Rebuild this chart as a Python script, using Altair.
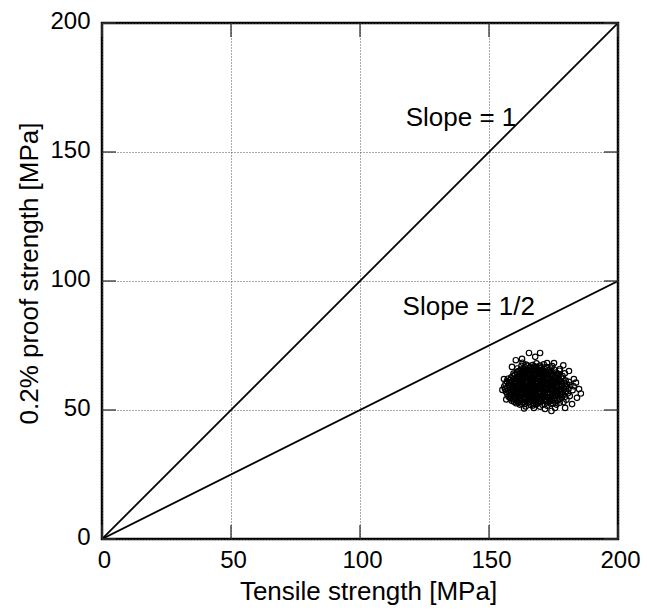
import altair as alt
import pandas as pd

# ---- data ----
axis_ticks = [0, 50, 100, 150, 200]

line1_x = [0, 200]
line1_y = [0, 200]
line2_x = [0, 200]
line2_y = [0, 100]

note_text = ["Slope = 1", "Slope = 1/2"]
note_x = [117.7, 116.5]
note_y = [159.9, 86.7]

cloud_core = [
    (164.2,51.4),(167.0,51.7),(169.8,51.3),(172.6,51.6),
    (161.9,52.1),(163.8,52.3),(166.2,51.9),(168.3,52.2),(170.7,52.0),(173.9,52.4),(176.1,52.1),
    (160.5,52.6),(162.7,52.4),(165.0,52.8),(167.4,52.5),(169.1,52.7),(171.5,52.3),(174.8,52.6),(177.4,52.8),
    (159.7,53.2),(161.3,52.9),(163.2,53.1),(165.8,53.3),(168.0,52.9),(170.1,53.2),(172.3,53.0),(175.6,53.3),(178.9,53.1),
    (158.8,53.6),(160.9,53.4),(162.4,53.7),(164.6,53.5),(166.9,53.8),(169.4,53.4),(171.2,53.6),(173.7,53.5),(176.5,53.7),
    (159.3,54.2),(161.8,53.9),(163.5,54.1),(165.3,54.3),(167.6,54.0),(169.9,54.2),(172.0,54.1),(174.4,53.9),(177.3,54.2),(180.0,54.0),
    (158.2,54.6),(160.2,54.4),(162.0,54.7),(164.1,54.5),(166.0,54.6),(168.5,54.4),(170.6,54.7),(173.1,54.5),(175.3,54.6),(178.2,54.8),
    (157.6,55.1),(159.5,54.9),(161.4,55.2),(163.3,55.0),(165.4,55.3),(167.2,54.9),(169.2,55.1),(171.7,55.2),(174.0,55.0),(176.8,55.3),(179.5,55.1),
    (158.4,55.6),(160.6,55.4),(162.5,55.7),(164.8,55.5),(166.6,55.8),(168.8,55.4),(170.9,55.6),(172.8,55.7),(175.5,55.5),(177.9,55.6),(181.3,55.4),
    (157.1,56.1),(159.0,55.9),(161.1,56.2),(163.0,56.0),(164.9,56.3),(167.0,55.9),(169.5,56.1),(171.3,56.2),(173.6,56.0),(176.2,56.3),(178.7,56.1),
    (158.0,56.6),(159.9,56.4),(162.2,56.7),(164.3,56.5),(166.3,56.6),(168.1,56.4),(170.2,56.7),(172.5,56.5),(174.7,56.6),(177.5,56.8),(180.6,56.5),
    (156.6,57.1),(158.7,56.9),(160.8,57.2),(162.9,57.0),(165.2,57.3),(167.5,56.9),(169.0,57.1),(171.0,57.2),(173.3,57.0),(175.9,57.3),(178.4,57.1),
    (157.4,57.6),(159.4,57.4),(161.6,57.7),(163.7,57.5),(165.8,57.8),(167.8,57.4),(169.7,57.6),(172.1,57.7),(174.3,57.5),(176.9,57.6),(179.8,57.4),(182.4,57.7),
    (156.2,58.1),(158.3,57.9),(160.4,58.2),(162.6,58.0),(164.5,58.3),(166.7,57.9),(168.6,58.1),(170.5,58.2),(172.7,58.0),(175.0,58.3),(177.6,58.1),(180.8,58.0),
    (157.0,58.6),(159.1,58.4),(161.0,58.7),(163.4,58.5),(165.5,58.6),(167.3,58.4),(169.3,58.7),(171.6,58.5),(173.9,58.6),(176.4,58.8),(178.9,58.5),
    (155.9,59.1),(158.0,58.9),(160.0,59.2),(162.1,59.0),(164.0,59.3),(166.1,58.9),(168.2,59.1),(170.0,59.2),(172.4,59.0),(174.6,59.3),(177.1,59.1),(179.9,59.0),(182.8,59.2),
    (157.5,59.6),(159.6,59.4),(161.7,59.7),(163.6,59.5),(165.7,59.8),(167.6,59.4),(169.6,59.6),(171.8,59.7),(173.5,59.5),(175.8,59.6),(178.3,59.4),(181.5,59.7),
    (156.4,60.1),(158.6,59.9),(160.7,60.2),(162.8,60.0),(164.6,60.3),(166.5,59.9),(168.7,60.1),(170.8,60.2),(172.9,60.0),(175.3,60.3),(177.8,60.1),(180.3,60.0),
    (157.8,60.6),(159.8,60.4),(161.9,60.7),(163.9,60.5),(165.9,60.6),(167.9,60.4),(169.9,60.7),(172.2,60.5),(174.1,60.6),(176.6,60.8),(179.2,60.5),
    (156.9,61.1),(158.9,60.9),(160.9,61.2),(163.1,61.0),(165.1,61.3),(167.0,60.9),(169.1,61.1),(171.1,61.2),(173.4,61.0),(175.7,61.3),(178.0,61.1),(181.0,60.9),
    (158.2,61.6),(160.3,61.4),(162.3,61.7),(164.4,61.5),(166.4,61.8),(168.4,61.4),(170.4,61.6),(172.6,61.7),(174.8,61.5),(177.2,61.6),(179.7,61.4),
    (157.3,62.1),(159.4,61.9),(161.5,62.2),(163.5,62.0),(165.6,62.3),(167.7,61.9),(169.8,62.1),(171.9,62.2),(174.2,62.0),(176.5,62.3),(178.8,62.1),
    (158.5,62.6),(160.6,62.4),(162.7,62.7),(164.8,62.5),(166.8,62.6),(168.9,62.4),(171.0,62.7),(173.2,62.5),(175.4,62.6),(177.9,62.8),
    (159.2,63.1),(161.2,62.9),(163.3,63.2),(165.3,63.0),(167.4,63.3),(169.5,62.9),(171.5,63.1),(173.8,63.2),(176.0,63.0),(178.5,63.2),
    (160.0,63.6),(162.0,63.4),(164.2,63.7),(166.2,63.5),(168.3,63.6),(170.3,63.4),(172.4,63.7),(174.7,63.5),(177.0,63.6),
    (159.5,64.1),(161.6,63.9),(163.8,64.2),(165.8,64.0),(167.9,64.3),(169.9,63.9),(172.0,64.1),(174.3,64.2),(176.7,64.0),(179.4,64.2),
    (160.8,64.6),(162.9,64.4),(164.9,64.7),(167.1,64.5),(169.2,64.6),(171.3,64.4),(173.6,64.7),(175.9,64.5),
    (161.4,65.1),(163.6,64.9),(165.6,65.2),(167.7,65.0),(169.7,65.3),(171.8,64.9),(174.0,65.1),(177.3,65.2),
    (162.3,65.6),(164.5,65.4),(166.6,65.7),(168.6,65.5),(170.7,65.6),(172.9,65.4),(175.2,65.7),
    (161.0,66.1),(163.2,65.9),(165.2,66.2),(167.3,66.0),(169.4,66.3),(171.6,65.9),(173.9,66.1),
    (163.9,66.6),(166.1,66.4),(168.2,66.7),(170.4,66.5),(172.6,66.6),
    (162.6,67.1),(165.0,67.2),(167.5,66.9),(169.8,67.2),(174.5,67.0),
    (164.3,67.6),(166.9,67.4),(171.2,67.7),
    (163.0,68.3),(168.4,68.1),
]

cloud_inner = [
    (164.0,53.8),(166.0,54.0),(168.2,53.7),(170.3,54.0),(172.4,53.7),
    (162.0,55.3),(164.0,55.0),(166.1,55.4),(168.0,55.2),(170.0,55.5),(172.2,55.1),(174.3,55.4),
    (161.2,56.9),(163.4,56.3),(165.4,56.8),(167.4,56.2),(169.3,56.6),(171.5,56.9),(173.5,56.3),(175.4,56.7),
    (160.5,57.9),(162.4,58.3),(164.4,57.7),(166.3,58.2),(168.3,57.8),(170.1,58.4),(172.0,57.9),(174.1,58.2),(176.1,57.8),
    (161.3,59.4),(163.2,59.8),(165.2,59.3),(167.1,59.7),(169.0,59.3),(171.0,59.8),(172.9,59.3),(174.9,59.7),(176.9,59.2),
    (160.2,60.8),(162.2,61.2),(164.2,60.7),(166.2,61.1),(168.1,60.6),(170.2,61.2),(172.1,60.7),(174.0,61.1),(176.0,60.7),
    (161.0,62.5),(163.0,62.1),(165.0,62.6),(167.0,62.2),(169.0,62.6),(171.1,62.1),(173.0,62.6),(175.1,62.2),
    (162.0,63.9),(164.0,63.4),(166.0,63.9),(168.0,63.4),(170.1,63.9),(172.2,63.4),(174.2,63.8),
    (163.1,65.0),(165.1,65.4),(167.2,64.9),(169.3,65.4),(171.2,65.0),
]

cloud_outer = [
    (162.8,69.8),(165.5,72.1),(169.8,72.1),(158.9,66.7),(172.5,68.2),(175.2,68.2),
    (177.5,65.9),(181.0,65.1),(182.9,62.0),(184.9,58.1),(184.1,54.7),(182.2,52.3),
    (179.5,50.8),(175.6,50.8),(171.7,50.4),(167.4,50.8),(158.1,60.5),(155.8,62.0),
    (160.4,69.3),(167.9,70.6),(155.2,57.8),(156.7,54.1),(178.8,67.3),(183.7,60.6),
    (185.6,56.4),(174.2,49.6),(163.6,50.6),
]

# ---- tables ----
pts = cloud_core + cloud_inner + cloud_outer
cloud_df = pd.DataFrame({"ts": [p[0] for p in pts], "ps": [p[1] for p in pts]})
lines_df = pd.DataFrame({
    "ts": line1_x + line2_x,
    "ps": line1_y + line2_y,
    "series": ["slope1"] * 2 + ["slope half"] * 2,
})
notes_df = pd.DataFrame({"label": note_text, "ts": note_x, "ps": note_y})
ticks_df = pd.DataFrame({"v": axis_ticks})

W, H = 516, 516
FONT = "Liberation Sans"
TICK_LEN = 14

xscale = alt.Scale(domain=[0, 200], nice=False, zero=False)
yscale = alt.Scale(domain=[0, 200], nice=False, zero=False)

xaxis = alt.Axis(
    values=axis_ticks, grid=True, gridColor="#555", gridDash=[1, 2], gridWidth=1,
    ticks=False, domain=False, labelFont=FONT, labelFontSize=24, labelColor="black",
    labelPadding=9, labelFlush=False, labelOverlap=False, labelOffset=2,
    title="Tensile strength [MPa]", titleFont=FONT, titleFontSize=26,
    titleFontWeight="normal", titleColor="black",
    titleX=266, titleY=60, titleBaseline="alphabetic", titleAlign="center",
)
yaxis = alt.Axis(
    values=axis_ticks, grid=True, gridColor="#555", gridDash=[1, 2], gridWidth=1,
    ticks=False, domain=False, labelFont=FONT, labelFontSize=24, labelColor="black",
    labelPadding=12, labelFlush=False, labelOverlap=False, labelOffset=-2,
    labelBaseline="middle",
    title="0.2% proof strength [MPa]", titleFont=FONT, titleFontSize=26,
    titleFontWeight="normal", titleColor="black",
    titleX=-65, titleY=250, titleAngle=270, titleBaseline="alphabetic", titleAlign="center",
)

base_grid = alt.Chart(lines_df).mark_line(
    color="black", strokeWidth=1.8, clip=True
).encode(
    x=alt.X("ts:Q", scale=xscale, axis=xaxis),
    y=alt.Y("ps:Q", scale=yscale, axis=yaxis),
    detail="series:N",
)

tick_style = dict(color="#333", strokeWidth=1.3)
t_bottom = alt.Chart(ticks_df).mark_rule(**tick_style).encode(
    x=alt.X("v:Q", scale=xscale), y=alt.value(H), y2=alt.value(H - TICK_LEN))
t_top = alt.Chart(ticks_df).mark_rule(**tick_style).encode(
    x=alt.X("v:Q", scale=xscale), y=alt.value(0), y2=alt.value(TICK_LEN))
t_left = alt.Chart(ticks_df).mark_rule(**tick_style).encode(
    y=alt.Y("v:Q", scale=yscale), x=alt.value(0), x2=alt.value(TICK_LEN))
t_right = alt.Chart(ticks_df).mark_rule(**tick_style).encode(
    y=alt.Y("v:Q", scale=yscale), x=alt.value(W), x2=alt.value(W - TICK_LEN))

cloud = alt.Chart(cloud_df).mark_point(
    shape="circle", filled=False, color="black", strokeWidth=1.15, size=30, opacity=1
).encode(x=alt.X("ts:Q", scale=xscale), y=alt.Y("ps:Q", scale=yscale))

notes = alt.Chart(notes_df).mark_text(
    font=FONT, fontSize=26, color="black", align="left", baseline="alphabetic"
).encode(x=alt.X("ts:Q", scale=xscale), y=alt.Y("ps:Q", scale=yscale), text="label:N")

chart = alt.layer(base_grid, t_bottom, t_top, t_left, t_right, cloud, notes).properties(
    width=W, height=H,
    padding={"left": 102, "top": 23, "right": 29, "bottom": 71},
    autosize=alt.AutoSizeParams(type="none"),
    background="white",
).configure_view(stroke="black", strokeWidth=2.5)

chart.save("out.html", embed_options={"renderer": "svg", "actions": False})
